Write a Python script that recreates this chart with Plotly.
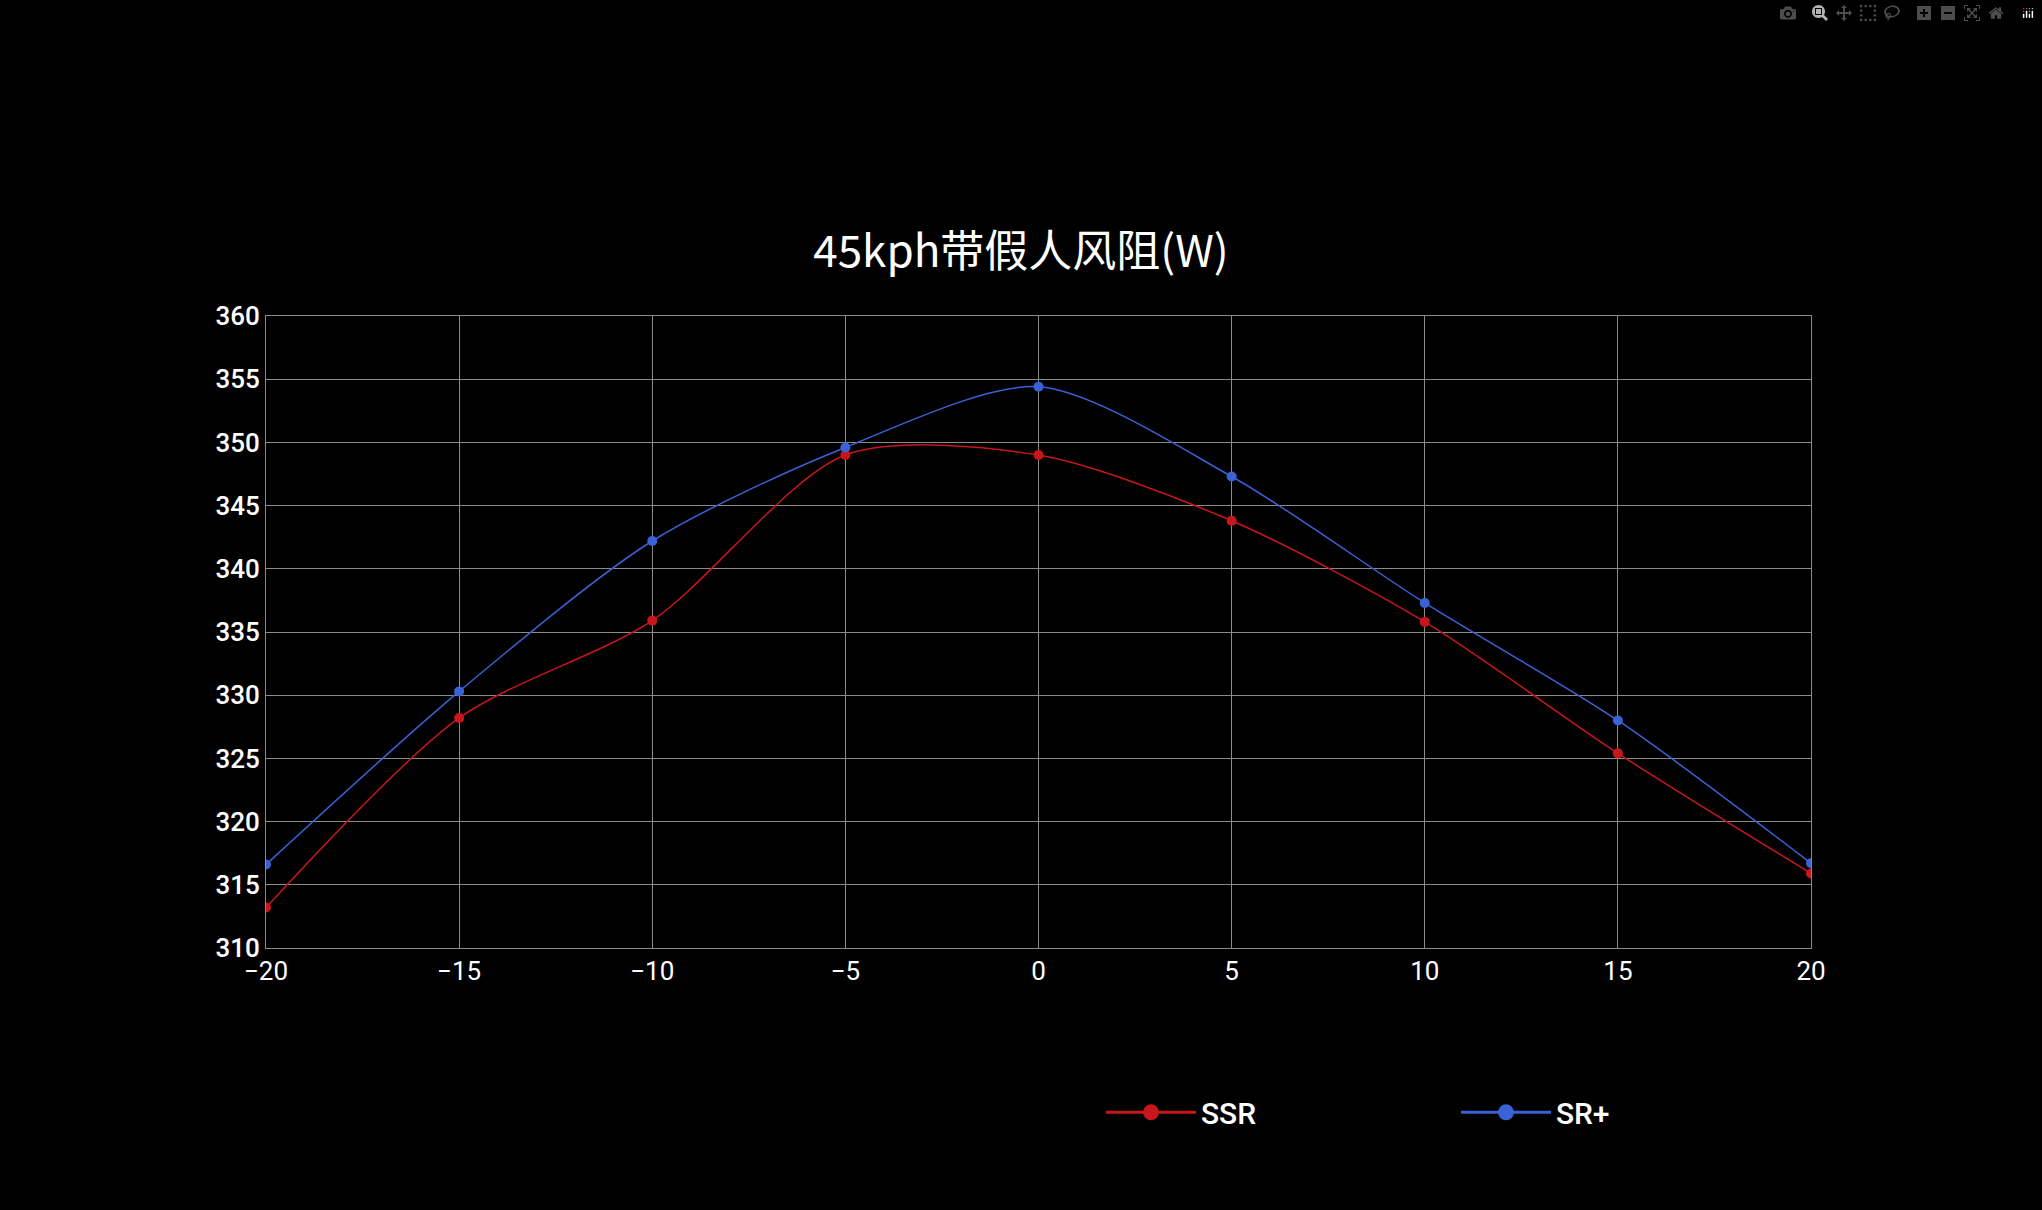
import plotly.graph_objects as go

x = [-20, -15, -10, -5, 0, 5, 10, 15, 20]
ssr = [313.2, 328.2, 335.9, 349.0, 349.0, 343.8, 335.8, 325.4, 315.9]
srp = [316.6, 330.3, 342.2, 349.6, 354.4, 347.3, 337.3, 328.0, 316.7]
names = ["SSR", "SR+"]
colors = ["#c8161d", "#3a62d6"]

fig = go.Figure()
for name, ys, c in zip(names, [ssr, srp], colors):
    fig.add_trace(go.Scatter(x=x, y=ys, name=name, mode="lines+markers", showlegend=False,
                             line=dict(color=c, width=1.5, shape="spline", smoothing=0.8),
                             marker=dict(size=10, color=c)))
for name, c in zip(names, colors):
    fig.add_trace(go.Scatter(x=[None], y=[None], name=name, mode="lines+markers",
                             line=dict(color=c, width=3), marker=dict(size=24, color=c)))

fig.update_layout(
    width=2042, height=1210,
    paper_bgcolor="black", plot_bgcolor="black",
    font=dict(family="Roboto, Noto Sans CJK SC", color="white", size=24),
    title=dict(text="45kph带假人风阻(W)", x=0.5, xanchor="center", y=0.792, yanchor="middle",
               font=dict(size=44, family="Noto Sans CJK SC, Roboto", color="white")),
    margin=dict(l=266, r=2042-1811, t=316, b=1210-948),
    xaxis=dict(range=[-20, 20], dtick=5, showgrid=True, gridcolor="#8a8a8a", gridwidth=1,
               zeroline=False, showline=True, linecolor="#8a8a8a", mirror=True,
               tickfont=dict(size=26), ticks=""),
    yaxis=dict(range=[310, 360], dtick=5, showgrid=True, gridcolor="#8a8a8a", gridwidth=1,
               zeroline=False, showline=True, linecolor="#8a8a8a", mirror=True,
               tickfont=dict(size=26, family="Roboto Medium, Roboto"), ticks=""),
    legend=dict(orientation="h", x=1.0, xanchor="right", y=-0.26, yanchor="middle",
                font=dict(size=30, family="Roboto Medium, Roboto"), entrywidth=250, entrywidthmode="pixels",
                bgcolor="rgba(0,0,0,0)", traceorder="normal", itemwidth=90),
    showlegend=True,
)
fig.write_html("out.html")
with open("out.html", encoding="utf-8") as f:
    html = f.read()
html = html.replace("<head>", "<head><style>html,body{margin:0;padding:0;background:black;}</style>", 1)
with open("out.html", "w", encoding="utf-8") as f:
    f.write(html)
